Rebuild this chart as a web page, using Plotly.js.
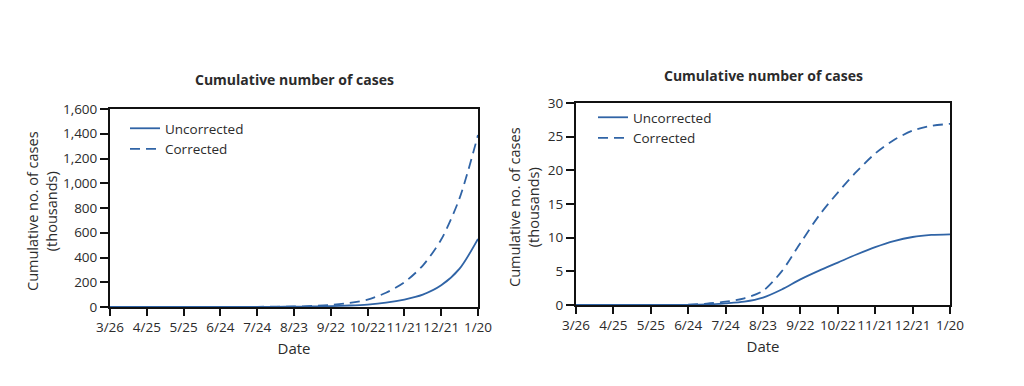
<!DOCTYPE html>
<html>
<head>
<meta charset="utf-8">
<script src="https://cdn.plot.ly/plotly-3.0.1.min.js"></script>
<style>
  html, body { margin: 0; padding: 0; background: #ffffff; }
  #chart { width: 1024px; height: 386px; }
</style>
</head>
<body>
<div id="chart"></div>
<script>
// Days since 3/26 (every 15 days)
const days = [0, 15, 30, 45, 60, 75, 90, 105, 120, 135, 150, 165, 180, 195, 210, 225, 240, 255, 270, 285, 300];

// Left panel (thousands)
const leftUncorrected = [0, 0, 0, 0, 0, 0, 0.3, 0.6, 1, 1.5, 2.5, 4, 7, 12, 20, 35, 60, 100, 175, 310, 550];
const leftCorrected   = [0, 0, 0, 0, 0, 0, 0.5, 1, 1.5, 2.5, 4, 8, 16, 32, 60, 115, 200, 335, 545, 880, 1390];

// Right panel (thousands)
const rightUncorrected = [0, 0, 0, 0, 0, 0, 0.02, 0.08, 0.25, 0.5, 1.1, 2.3, 3.8, 5.1, 6.3, 7.5, 8.6, 9.5, 10.1, 10.4, 10.5];
const rightCorrected   = [0, 0, 0, 0, 0, 0, 0.05, 0.2, 0.5, 1.0, 2.1, 5.0, 9.2, 13.3, 16.7, 19.8, 22.5, 24.5, 25.9, 26.6, 26.9];

// Tick labels
const tickDays = [0, 30, 60, 90, 120, 150, 180, 210, 240, 270, 300];
const tickLabels = ["3/26", "4/25", "5/25", "6/24", "7/24", "8/23", "9/22", "10/22", "11/21", "12/21", "1/20"];

const panelTitle = "Cumulative number of cases";
const yTitle = "Cumulative no. of cases<br>(thousands)";
const xTitle = "Date";
const seriesNames = ["Uncorrected", "Corrected"];

const W = 1024, H = 386;
const px = v => v / W;
const py = v => 1 - v / H;

const lineColor = "#3064a6";
const textColor = "#2b2b2b";
const FONT = "Open Sans, Noto Sans, sans-serif";

const traces = [
  { x: days, y: leftUncorrected, name: seriesNames[0], type: "scatter", mode: "lines",
    line: { color: lineColor, width: 1.8, shape: "spline", smoothing: 0.8 }, xaxis: "x", yaxis: "y", legend: "legend" },
  { x: days, y: leftCorrected, name: seriesNames[1], type: "scatter", mode: "lines",
    line: { color: lineColor, width: 1.8, dash: "10px,6px", shape: "spline", smoothing: 0.8 }, xaxis: "x", yaxis: "y", legend: "legend" },
  { x: days, y: rightUncorrected, name: seriesNames[0], type: "scatter", mode: "lines",
    line: { color: lineColor, width: 1.8, shape: "spline", smoothing: 0.8 }, xaxis: "x2", yaxis: "y2", legend: "legend2" },
  { x: days, y: rightCorrected, name: seriesNames[1], type: "scatter", mode: "lines",
    line: { color: lineColor, width: 1.8, dash: "10px,6px", shape: "spline", smoothing: 0.8 }, xaxis: "x2", yaxis: "y2", legend: "legend2" }
];

function xAxis(domain, anchor) {
  return {
    domain: domain, anchor: anchor, range: [0, 300],
    tickmode: "array", tickvals: tickDays, ticktext: tickLabels, tickangle: 0,
    ticks: "outside", ticklen: 7, tickwidth: 2, tickcolor: "#111",
    showline: true, linecolor: "#111", linewidth: 2, mirror: true,
    showgrid: false, zeroline: false,
    tickfont: { family: FONT, size: 13.5, color: textColor },
    title: { text: xTitle, font: { family: FONT, size: 15, color: textColor }, standoff: 8 },
    automargin: false, fixedrange: true
  };
}
function yAxis(domain, anchor, range, dtick, fmt) {
  return {
    domain: domain, anchor: anchor, range: range, dtick: dtick, tick0: 0,
    tickformat: fmt,
    ticks: "outside", ticklen: 8, tickwidth: 2, tickcolor: "#111",
    showline: true, linecolor: "#111", linewidth: 2, mirror: true,
    showgrid: false, zeroline: false,
    tickfont: { family: FONT, size: 13.5, color: textColor },
    automargin: false, fixedrange: true
  };
}

const legendCommon = {
  bgcolor: "rgba(0,0,0,0)", borderwidth: 0,
  font: { family: FONT, size: 13.5, color: textColor },
  xanchor: "left", yanchor: "top", itemwidth: 30, tracegroupgap: 0
};

function titleNote(text, x, y) {
  return { text: "<b>" + text + "</b>", xref: "paper", yref: "paper", x: px(x), y: py(y),
    xanchor: "center", yanchor: "middle", showarrow: false,
    font: { family: FONT, size: 14, color: textColor } };
}
function yTitleNote(x, y) {
  return { text: yTitle, xref: "paper", yref: "paper", x: px(x), y: py(y),
    xanchor: "center", yanchor: "middle", showarrow: false, textangle: -90,
    font: { family: FONT, size: 14.5, color: textColor } };
}

const layout = {
  width: W, height: H,
  margin: { l: 0, r: 0, t: 0, b: 0 },
  paper_bgcolor: "#ffffff", plot_bgcolor: "#ffffff",
  showlegend: true,
  xaxis: xAxis([px(110), px(478)], "y"),
  yaxis: yAxis([py(307), py(109)], "x", [0, 1600], 200, ",d"),
  xaxis2: xAxis([px(576), px(950)], "y2"),
  yaxis2: yAxis([py(305), py(103)], "x2", [0, 30], 5, "d"),
  legend: Object.assign({}, legendCommon, { x: px(125), y: py(113) }),
  legend2: Object.assign({}, legendCommon, { x: px(593), y: py(102) }),
  annotations: [
    titleNote(panelTitle, 294, 79),
    titleNote(panelTitle, 763, 75),
    yTitleNote(42, 211),
    yTitleNote(524, 207)
  ]
};

Plotly.newPlot("chart", traces, layout, { displayModeBar: false, staticPlot: true });
</script>
</body>
</html>
